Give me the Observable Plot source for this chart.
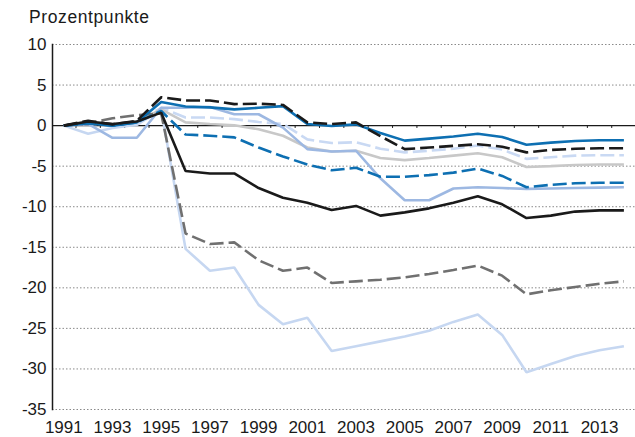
<!DOCTYPE html>
<html><head><meta charset="utf-8">
<script src="https://cdn.jsdelivr.net/npm/d3@7"></script>
<script src="https://cdn.jsdelivr.net/npm/@observablehq/plot@0.6"></script>
<style>
html,body{margin:0;padding:0;background:#fff;}
#title{height:30px;position:relative;font-family:"Liberation Sans",Arial,sans-serif;font-size:17.5px;letter-spacing:0.6px;color:#1a1a1a;}
#title span{position:absolute;left:29px;top:9px;line-height:17px;white-space:nowrap;}
svg{display:block;}
</style>
</head><body>
<div id="title"><span>Prozentpunkte</span></div>
<div id="chart"></div>
<script>
const years = d3.range(1991, 2015);
const xTickYears = [1991,1993,1995,1997,1999,2001,2003,2005,2007,2009,2011,2013];
const yTicks = [-35,-30,-25,-20,-15,-10,-5,0,5,10];

const veryLightBlue = [0,-1.0,-0.3,0.1,2.0,-15.2,-17.9,-17.5,-22.1,-24.5,-23.7,-27.8,-27.2,-26.6,-26.0,-25.3,-24.2,-23.3,-25.8,-30.4,-29.4,-28.4,-27.7,-27.2];
const lightBlueDashed = [0,0.2,0.1,0.5,2.2,1.0,1.0,0.8,0.45,0.2,-1.7,-2.15,-2.05,-2.85,-3.3,-3.1,-2.85,-2.45,-2.95,-4.1,-3.9,-3.7,-3.65,-3.65];
const lightGray = [0,0.3,0.1,0.5,2.0,0.4,0.2,0.05,-0.45,-1.25,-2.7,-3.2,-3.1,-4.0,-4.25,-4.0,-3.7,-3.4,-3.9,-5.1,-5.0,-4.85,-4.8,-4.8];
const mediumBlue = [0,0.2,-1.5,-1.5,2.2,2.2,2.3,1.4,1.4,-0.25,-2.9,-3.2,-3.1,-6.5,-9.2,-9.2,-7.75,-7.6,-7.7,-7.8,-7.75,-7.7,-7.65,-7.6];
const darkGrayDashed = [0,0.3,0.9,1.3,1.5,-13.3,-14.6,-14.4,-16.6,-17.9,-17.5,-19.4,-19.2,-19.0,-18.7,-18.3,-17.8,-17.25,-18.5,-20.8,-20.3,-19.9,-19.5,-19.2];
const darkBlueDashed = [0,0.3,0,0.4,1.8,-1.1,-1.25,-1.45,-2.7,-3.8,-4.8,-5.5,-5.2,-6.3,-6.3,-6.1,-5.8,-5.3,-6.2,-7.6,-7.3,-7.1,-7.05,-7.05];
const darkBlueSolid = [0,0.3,0,0.4,2.9,2.35,2.25,2.0,2.2,2.4,0.2,-0.05,0.15,-0.9,-1.85,-1.6,-1.35,-1.0,-1.4,-2.35,-2.1,-1.9,-1.8,-1.8];
const blackDashed = [0,0.6,0.15,0.6,3.5,3.1,3.1,2.65,2.7,2.55,0.4,0.2,0.4,-1.3,-2.9,-2.7,-2.5,-2.3,-2.6,-3.3,-3.0,-2.85,-2.8,-2.8];
const blackSolid = [0,0.5,0.2,0.5,1.6,-5.6,-5.9,-5.9,-7.7,-8.9,-9.5,-10.4,-9.9,-11.1,-10.7,-10.2,-9.5,-8.7,-9.7,-11.4,-11.1,-10.6,-10.45,-10.45];

const series = [
  {values: veryLightBlue, color: "#c6d7f1", dash: null},
  {values: lightBlueDashed, color: "#c9d9f3", dash: "14,5"},
  {values: lightGray, color: "#c8c8c8", dash: null},
  {values: mediumBlue, color: "#9db8e2", dash: null},
  {values: darkGrayDashed, color: "#707070", dash: "14,5"},
  {values: darkBlueDashed, color: "#0d6fb2", dash: "14,5"},
  {values: darkBlueSolid, color: "#0d6fb2", dash: null},
  {values: blackDashed, color: "#1a1a1a", dash: "14,5"},
  {values: blackSolid, color: "#1a1a1a", dash: null}
];

const halfYears = d3.range(1991.5, 2014, 1);

const lineMarks = series.map(s => Plot.line(
  years.map((y, i) => ({year: y, value: s.values[i]})),
  {x: "year", y: "value", stroke: s.color, strokeWidth: 2.6, strokeDasharray: s.dash || undefined, strokeLinejoin: "miter", strokeLinecap: "butt"}
));

const chart = Plot.plot({
  width: 635,
  height: 407,
  marginLeft: 52,
  marginRight: 0,
  marginTop: 14,
  marginBottom: 28,
  style: {fontFamily: "Liberation Sans, Arial, sans-serif", fontSize: "17px", color: "#1a1a1a", background: "#fff"},
  x: {domain: [1991, 2014], range: [63.3, 623.4], label: null},
  y: {domain: [-35, 10], label: null},
  marks: [
    Plot.ruleY(yTicks.filter(d => d !== 0), {stroke: "#8a8a8a", strokeWidth: 1, strokeDasharray: "1.5,2"}),
    Plot.ruleY([0], {stroke: "#1a1a1a", strokeWidth: 1.2}),
    Plot.ruleX(halfYears, {y1: 0, y2: -0.35, stroke: "#1a1a1a", strokeWidth: 1}),
    Plot.frame({anchor: "left", stroke: "#1a1a1a", strokeWidth: 1.5}),
    Plot.axisY({ticks: yTicks, tickSize: 0, tickPadding: 6, tickFormat: d => String(d), label: null}),
    Plot.axisX({ticks: xTickYears, tickSize: 0, tickPadding: 11, tickFormat: d => String(d), label: null}),
    ...lineMarks
  ]
});
document.getElementById("chart").appendChild(chart);
</script>
</body></html>
